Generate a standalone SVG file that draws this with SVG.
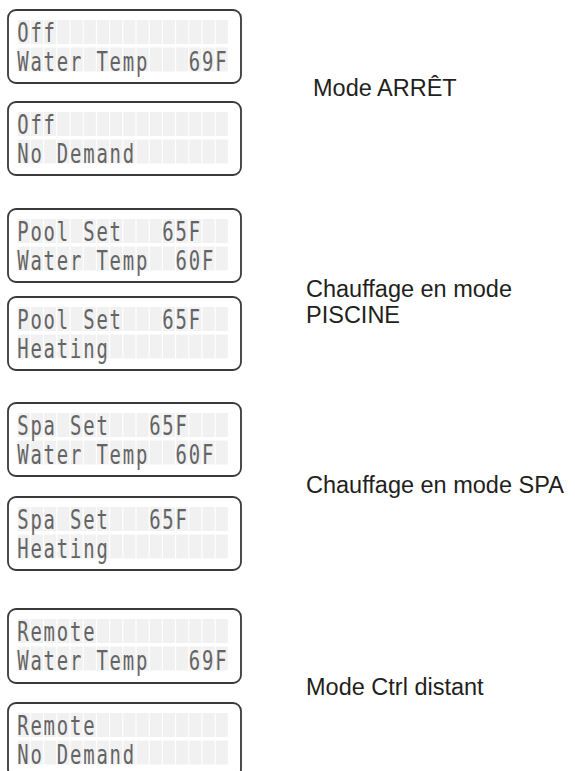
<svg xmlns="http://www.w3.org/2000/svg" xmlns:xlink="http://www.w3.org/1999/xlink" width="575" height="771" viewBox="0 0 575 771">
<style>
.box{fill:#ffffff;stroke:#3a3a3a;stroke-width:1.8}
.cell{fill:#f1f1f1}
.lcd{font-family:"DejaVu Sans Mono","Liberation Mono",monospace;font-size:27px;letter-spacing:2.6px;fill:url(#dots)}
.lbl{font-family:"Liberation Sans",Arial,sans-serif;font-size:23.5px;fill:#231f20}
</style>
<defs>
<pattern id="dots" patternUnits="userSpaceOnUse" x="0" y="0" width="2" height="2">
<circle cx="1" cy="1" r="0.95" fill="#262626"/>
</pattern>
<g id="grid">
<rect class="cell" x="17.8" y="10" width="12" height="24"/><rect class="cell" x="31" y="10" width="12" height="24"/><rect class="cell" x="44.2" y="10" width="12" height="24"/><rect class="cell" x="57.4" y="10" width="12" height="24"/><rect class="cell" x="70.6" y="10" width="12" height="24"/><rect class="cell" x="83.8" y="10" width="12" height="24"/><rect class="cell" x="97" y="10" width="12" height="24"/><rect class="cell" x="110.2" y="10" width="12" height="24"/><rect class="cell" x="123.4" y="10" width="12" height="24"/><rect class="cell" x="136.6" y="10" width="12" height="24"/><rect class="cell" x="149.8" y="10" width="12" height="24"/><rect class="cell" x="163" y="10" width="12" height="24"/><rect class="cell" x="176.2" y="10" width="12" height="24"/><rect class="cell" x="189.4" y="10" width="12" height="24"/><rect class="cell" x="202.6" y="10" width="12" height="24"/><rect class="cell" x="215.8" y="10" width="12" height="24"/>
<rect class="cell" x="17.8" y="37.5" width="12" height="24"/><rect class="cell" x="31" y="37.5" width="12" height="24"/><rect class="cell" x="44.2" y="37.5" width="12" height="24"/><rect class="cell" x="57.4" y="37.5" width="12" height="24"/><rect class="cell" x="70.6" y="37.5" width="12" height="24"/><rect class="cell" x="83.8" y="37.5" width="12" height="24"/><rect class="cell" x="97" y="37.5" width="12" height="24"/><rect class="cell" x="110.2" y="37.5" width="12" height="24"/><rect class="cell" x="123.4" y="37.5" width="12" height="24"/><rect class="cell" x="136.6" y="37.5" width="12" height="24"/><rect class="cell" x="149.8" y="37.5" width="12" height="24"/><rect class="cell" x="163" y="37.5" width="12" height="24"/><rect class="cell" x="176.2" y="37.5" width="12" height="24"/><rect class="cell" x="189.4" y="37.5" width="12" height="24"/><rect class="cell" x="202.6" y="37.5" width="12" height="24"/><rect class="cell" x="215.8" y="37.5" width="12" height="24"/>
</g>
</defs>

<g id="lcd-off-1">
<rect class="box" x="8" y="10" width="233" height="73" rx="8"/>
<use xlink:href="#grid" x="0" y="10"/>
<g transform="scale(0.7 1)">
<text class="lcd" x="24.6" y="42">Off</text>
<text class="lcd" x="24.6" y="71" xml:space="preserve">Water Temp   69F</text>
</g>
</g>
<g id="lcd-off-2">
<rect class="box" x="8" y="102" width="233" height="73" rx="8"/>
<use xlink:href="#grid" x="0" y="102"/>
<g transform="scale(0.7 1)">
<text class="lcd" x="24.6" y="134">Off</text>
<text class="lcd" x="24.6" y="163">No Demand</text>
</g>
</g>
<g id="lcd-pool-1">
<rect class="box" x="8" y="209" width="233" height="73" rx="8"/>
<use xlink:href="#grid" x="0" y="209"/>
<g transform="scale(0.7 1)">
<text class="lcd" x="24.6" y="241" xml:space="preserve">Pool Set   65F</text>
<text class="lcd" x="24.6" y="270" xml:space="preserve">Water Temp  60F</text>
</g>
</g>
<g id="lcd-pool-2">
<rect class="box" x="8" y="297" width="233" height="73" rx="8"/>
<use xlink:href="#grid" x="0" y="297"/>
<g transform="scale(0.7 1)">
<text class="lcd" x="24.6" y="329" xml:space="preserve">Pool Set   65F</text>
<text class="lcd" x="24.6" y="358">Heating</text>
</g>
</g>
<g id="lcd-spa-1">
<rect class="box" x="8" y="403" width="233" height="73" rx="8"/>
<use xlink:href="#grid" x="0" y="403"/>
<g transform="scale(0.7 1)">
<text class="lcd" x="24.6" y="435" xml:space="preserve">Spa Set   65F</text>
<text class="lcd" x="24.6" y="464" xml:space="preserve">Water Temp  60F</text>
</g>
</g>
<g id="lcd-spa-2">
<rect class="box" x="8" y="497" width="233" height="73" rx="8"/>
<use xlink:href="#grid" x="0" y="497"/>
<g transform="scale(0.7 1)">
<text class="lcd" x="24.6" y="529" xml:space="preserve">Spa Set   65F</text>
<text class="lcd" x="24.6" y="558">Heating</text>
</g>
</g>
<g id="lcd-remote-1">
<rect class="box" x="8" y="609" width="233" height="74" rx="8"/>
<use xlink:href="#grid" x="0" y="609"/>
<g transform="scale(0.7 1)">
<text class="lcd" x="24.6" y="641">Remote</text>
<text class="lcd" x="24.6" y="670" xml:space="preserve">Water Temp   69F</text>
</g>
</g>
<g id="lcd-remote-2">
<rect class="box" x="8" y="703" width="233" height="74" rx="8"/>
<use xlink:href="#grid" x="0" y="703"/>
<g transform="scale(0.7 1)">
<text class="lcd" x="24.6" y="735">Remote</text>
<text class="lcd" x="24.6" y="764">No Demand</text>
</g>
</g>

<g id="label-off"><text class="lbl" x="313" y="96">Mode ARRÊT</text></g>
<g id="label-pool"><text class="lbl" x="306" y="297">Chauffage en mode</text><text class="lbl" x="306" y="323">PISCINE</text></g>
<g id="label-spa"><text class="lbl" x="306" y="493">Chauffage en mode SPA</text></g>
<g id="label-remote"><text class="lbl" x="306" y="695">Mode Ctrl distant</text></g>
<g id="connectors"/>
</svg>
